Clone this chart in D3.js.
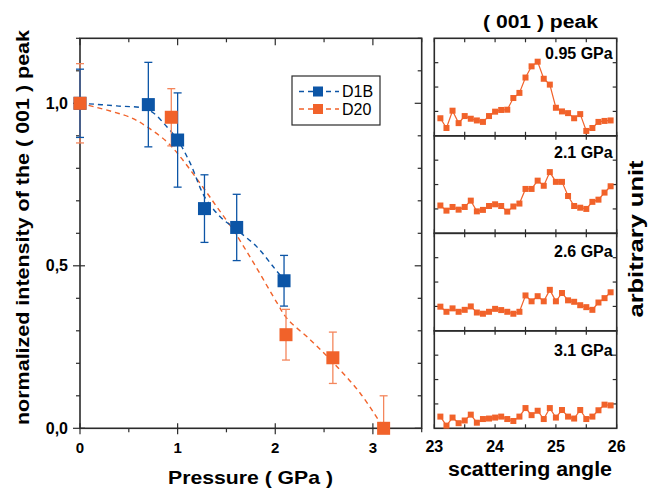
<!DOCTYPE html>
<html>
<head>
<meta charset="utf-8">
<script src="https://cdn.jsdelivr.net/npm/d3@7"></script>
<style>
  body { margin: 0; background: #fff; }
  svg { font-family: "Liberation Sans", Arial, sans-serif; }
</style>
</head>
<body>
<div id="chart"></div>
<script>
// ---- main panel data: (001) intensity vs pressure ----
var d1bPressure  = [0, 0.70, 1.0, 1.275, 1.605, 2.09];
var d1bIntensity = [1.0, 0.996, 0.887, 0.676, 0.618, 0.454];
var d1bError     = [0.105, 0.13, 0.145, 0.104, 0.102, 0.078];

var d20Pressure  = [0, 0.935, 2.11, 2.59, 3.11];
var d20Intensity = [1.0, 0.957, 0.288, 0.217, 0.0];
var d20Error     = [0.122, 0.088, 0.078, 0.079, 0.1];

// dashed guide curves
var d1bFitP = [0, 0.376, 0.70, 0.889, 1.0, 1.13, 1.275, 1.436, 1.607, 1.81, 1.98, 2.09];
var d1bFitI = [1.0, 0.992, 0.98, 0.928, 0.887, 0.815, 0.713, 0.651, 0.61, 0.559, 0.497, 0.456];
var d20FitP = [0, 0.513, 0.684, 0.889, 1.025, 1.23, 1.40, 1.57, 1.78, 2.02, 2.12, 2.36, 2.6, 2.87, 3.11];
var d20FitI = [1.0, 0.957, 0.928, 0.882, 0.836, 0.754, 0.682, 0.61, 0.508, 0.385, 0.338, 0.272, 0.2, 0.108, 0.0];

var seriesNames = ["D1B", "D20"];
var xTickLabels = ["0", "1", "2", "3"];
var yTickLabels = ["0,0", "0,5", "1,0"];

// ---- right panels: (001) peak profiles ----
var angles = [23.1, 23.2, 23.3, 23.4, 23.5, 23.6, 23.7, 23.8, 23.9, 24.0,
              24.1, 24.2, 24.3, 24.4, 24.5, 24.6, 24.7, 24.8, 24.9, 25.0,
              25.1, 25.2, 25.3, 25.4, 25.5, 25.6, 25.7, 25.8, 25.9];
var panelLabels = ["0.95 GPa", "2.1 GPa", "2.6 GPa", "3.1 GPa"];
var profile095 = [0.72, 0.32, 1.03, 0.52, 0.81, 0.70, 0.63, 0.57, 0.81, 0.99,
                  1.06, 1.07, 1.55, 1.76, 2.39, 2.85, 3.04, 2.34, 2.10, 1.15,
                  1.00, 0.93, 0.72, 0.89, 0.20, 0.32, 0.57, 0.61, 0.63];
var profile21  = [1.14, 0.93, 1.08, 0.97, 1.08, 1.34, 0.90, 0.96, 1.12, 1.19,
                  1.12, 0.89, 1.10, 1.22, 1.82, 1.82, 2.16, 1.95, 2.51, 2.11,
                  2.11, 1.53, 1.12, 1.05, 1.00, 1.29, 1.38, 1.67, 1.93];
var profile26  = [0.99, 0.78, 0.92, 0.78, 0.86, 1.00, 0.75, 0.70, 0.78, 0.90,
                  0.85, 0.78, 0.70, 0.78, 1.45, 1.21, 1.42, 1.21, 1.68, 1.21,
                  1.55, 1.25, 1.19, 1.05, 0.97, 0.86, 1.16, 1.34, 1.58];
var profile31  = [0.48, 0.11, 0.44, 0.21, 0.32, 0.56, 0.23, 0.38, 0.40, 0.44,
                  0.48, 0.38, 0.30, 0.48, 0.83, 0.54, 0.72, 0.38, 0.83, 0.44,
                  0.75, 0.48, 0.40, 0.75, 0.38, 0.48, 0.74, 0.97, 0.94];
var profiles = [profile095, profile21, profile26, profile31];
var angleTickLabels = ["23", "24", "25", "26"];

var blue = "#0c55a6";
var orange = "#f1622a";
var orangeLight = "#f4865c";
var axisColor = "#2b2b2b";

function init() {
    var W = 649, H = 489;
    var svg = d3.select("#chart").append("svg")
        .attr("width", W).attr("height", H);

    // ================= main panel =================
    var m = {left: 80, right: 421.7, top: 38.3, bottom: 428.3};
    var x = d3.scaleLinear().domain([0, 3.5]).range([m.left, m.right]);
    var y = d3.scaleLinear().domain([0, 1.2]).range([m.bottom, m.top]);

    var main = svg.append("g");

    // ticks: left/bottom outward, right/top inward
    var xTicks = d3.range(0, 3.51, 0.5);
    var yTicks = d3.range(0, 1.201, 0.1);
    function isMajorX(v) { return Math.abs(v - Math.round(v)) < 1e-6; }
    function isMajorY(v) { return Math.abs(v * 2 - Math.round(v * 2)) < 1e-6; }

    var tickG = main.append("g").attr("stroke", axisColor).attr("stroke-width", 1.2);
    xTicks.forEach(function(v) {
        var maj = isMajorX(v);
        tickG.append("line").attr("x1", x(v)).attr("x2", x(v))
            .attr("y1", m.bottom - (maj ? 5 : 0)).attr("y2", m.bottom + (maj ? 6 : 4));
        tickG.append("line").attr("x1", x(v)).attr("x2", x(v))
            .attr("y1", m.top).attr("y2", m.top + (maj ? 7 : 4));
    });
    yTicks.forEach(function(v) {
        var maj = isMajorY(v);
        tickG.append("line").attr("y1", y(v)).attr("y2", y(v))
            .attr("x1", m.left - (maj ? 7 : 4)).attr("x2", m.left + (maj ? 5 : 0));
        tickG.append("line").attr("y1", y(v)).attr("y2", y(v))
            .attr("x1", m.right).attr("x2", m.right - (maj ? 7 : 4));
    });

    main.append("rect")
        .attr("x", m.left).attr("y", m.top)
        .attr("width", m.right - m.left).attr("height", m.bottom - m.top)
        .attr("fill", "none").attr("stroke", axisColor).attr("stroke-width", 1.6);

    // tick labels
    main.selectAll(".xlab").data(xTickLabels).enter().append("text")
        .attr("x", function(d) { return x(+d); })
        .attr("y", 453)
        .attr("text-anchor", "middle")
        .attr("font-size", 15).attr("font-weight", "bold")
        .text(function(d) { return d; });
    main.selectAll(".ylab").data(yTickLabels).enter().append("text")
        .attr("x", 68)
        .attr("y", function(d) { return y(+d.replace(",", ".")) + 5.5; })
        .attr("text-anchor", "end")
        .attr("font-size", 16).attr("font-weight", "bold")
        .text(function(d) { return d; });

    // axis titles
    main.append("text")
        .attr("x", 250.5).attr("y", 484)
        .attr("text-anchor", "middle")
        .attr("font-size", 19).attr("font-weight", "bold")
        .attr("textLength", 165).attr("lengthAdjust", "spacingAndGlyphs")
        .text("Pressure ( GPa )");
    main.append("text")
        .attr("transform", "translate(29,227.5) rotate(-90)")
        .attr("text-anchor", "middle")
        .attr("font-size", 18.5).attr("font-weight", "bold")
        .attr("textLength", 395).attr("lengthAdjust", "spacingAndGlyphs")
        .text("normalized intensity of the ( 001 ) peak");

    // dashed guide curves
    var line = d3.line()
        .x(function(d) { return x(d[0]); })
        .y(function(d) { return y(d[1]); })
        .curve(d3.curveCatmullRom);
    main.append("path")
        .attr("d", line(d3.zip(d20FitP, d20FitI)))
        .attr("fill", "none").attr("stroke", orange)
        .attr("stroke-width", 1.4).attr("stroke-dasharray", "5,4");
    main.append("path")
        .attr("d", line(d3.zip(d1bFitP, d1bFitI)))
        .attr("fill", "none").attr("stroke", blue)
        .attr("stroke-width", 1.4).attr("stroke-dasharray", "5,4");

    // error bars
    function errorBars(px, py, pe, color) {
        var g = main.append("g").attr("stroke", color).attr("stroke-width", 1.3);
        px.forEach(function(p, i) {
            var top = y(py[i] + pe[i]);
            var bot = y(Math.max(0, py[i] - pe[i]));
            g.append("line").attr("x1", x(p)).attr("x2", x(p)).attr("y1", top).attr("y2", bot);
            g.append("line").attr("x1", x(p) - 4).attr("x2", x(p) + 4).attr("y1", top).attr("y2", top);
            if (py[i] - pe[i] > 0) {
                g.append("line").attr("x1", x(p) - 4).attr("x2", x(p) + 4).attr("y1", bot).attr("y2", bot);
            }
        });
    }
    errorBars(d20Pressure, d20Intensity, d20Error, orangeLight);
    errorBars(d1bPressure, d1bIntensity, d1bError, blue);

    // squares
    var s = 13;
    main.selectAll(".sq1").data(d3.zip(d1bPressure, d1bIntensity)).enter().append("rect")
        .attr("x", function(d) { return x(d[0]) - s / 2; })
        .attr("y", function(d) { return y(d[1]) - s / 2; })
        .attr("width", s).attr("height", s)
        .attr("fill", blue);
    main.selectAll(".sq2").data(d3.zip(d20Pressure, d20Intensity)).enter().append("rect")
        .attr("x", function(d) { return x(d[0]) - s / 2; })
        .attr("y", function(d) { return y(d[1]) - s / 2; })
        .attr("width", s).attr("height", s)
        .attr("fill", orange);

    // legend
    var leg = main.append("g");
    leg.append("rect")
        .attr("x", 292).attr("y", 76).attr("width", 88).attr("height", 49)
        .attr("fill", "#fff").attr("stroke", axisColor).attr("stroke-width", 1.2);
    var legColors = [blue, orange];
    seriesNames.forEach(function(name, i) {
        var ly = 91.5 + i * 17.5;
        leg.append("line")
            .attr("x1", 299).attr("x2", 339).attr("y1", ly).attr("y2", ly)
            .attr("stroke", legColors[i]).attr("stroke-width", 1.3)
            .attr("stroke-dasharray", "5,4");
        leg.append("rect")
            .attr("x", 318 - 5).attr("y", ly - 5).attr("width", 10).attr("height", 10)
            .attr("fill", legColors[i]);
        leg.append("text")
            .attr("x", 342).attr("y", ly + 5.5)
            .attr("font-size", 16)
            .text(name);
    });

    // ================= right panels =================
    var r = {left: 434.3, right: 616.7, top: 38.3, bottom: 428.3};
    var ph = (r.bottom - r.top) / profiles.length;
    var xa = d3.scaleLinear().domain([23, 26]).range([r.left, r.right]);
    var angleTicks = d3.range(23, 26.01, 0.5);

    profiles.forEach(function(vals, k) {
        var top = r.top + k * ph;
        var ya = d3.scaleLinear().domain([0, 4]).range([top + ph, top]);
        var g = svg.append("g");

        var tg = g.append("g").attr("stroke", axisColor).attr("stroke-width", 1.2);
        angleTicks.forEach(function(v) {
            tg.append("line").attr("x1", xa(v)).attr("x2", xa(v))
                .attr("y1", top + ph).attr("y2", top + ph - 4);
            tg.append("line").attr("x1", xa(v)).attr("x2", xa(v))
                .attr("y1", top).attr("y2", top + 4);
        });
        [1, 2, 3].forEach(function(v) {
            tg.append("line").attr("y1", ya(v)).attr("y2", ya(v))
                .attr("x1", r.left).attr("x2", r.left + 4);
            tg.append("line").attr("y1", ya(v)).attr("y2", ya(v))
                .attr("x1", r.right).attr("x2", r.right - 4);
        });

        g.append("rect")
            .attr("x", r.left).attr("y", top)
            .attr("width", r.right - r.left).attr("height", ph)
            .attr("fill", "none").attr("stroke", axisColor).attr("stroke-width", 1.6);

        var pts = d3.zip(angles, vals);
        var pl = d3.line()
            .x(function(d) { return xa(d[0]); })
            .y(function(d) { return ya(d[1]); });
        g.append("path").attr("d", pl(pts))
            .attr("fill", "none").attr("stroke", orange).attr("stroke-width", 1.2);
        g.selectAll(".pt").data(pts).enter().append("rect")
            .attr("x", function(d) { return xa(d[0]) - 3; })
            .attr("y", function(d) { return ya(d[1]) - 3; })
            .attr("width", 6).attr("height", 6)
            .attr("fill", orange);

        g.append("text")
            .attr("x", r.right - 4).attr("y", top + 20.5 + k * 1.5)
            .attr("text-anchor", "end")
            .attr("font-size", 16).attr("font-weight", "bold")
            .text(panelLabels[k]);
    });

    svg.selectAll(".alab").data(angleTickLabels).enter().append("text")
        .attr("x", function(d) { return xa(+d); })
        .attr("y", 452)
        .attr("text-anchor", "middle")
        .attr("font-size", 16).attr("font-weight", "bold")
        .text(function(d) { return d; });

    svg.append("text")
        .attr("x", 530).attr("y", 476)
        .attr("text-anchor", "middle")
        .attr("font-size", 20).attr("font-weight", "bold")
        .attr("textLength", 164).attr("lengthAdjust", "spacingAndGlyphs")
        .text("scattering angle");
    svg.append("text")
        .attr("x", 540.5).attr("y", 28)
        .attr("text-anchor", "middle")
        .attr("font-size", 18).attr("font-weight", "bold")
        .attr("textLength", 115).attr("lengthAdjust", "spacingAndGlyphs")
        .text("( 001 ) peak");
    svg.append("text")
        .attr("transform", "translate(643,239) rotate(-90)")
        .attr("text-anchor", "middle")
        .attr("font-size", 20).attr("font-weight", "bold")
        .attr("textLength", 157).attr("lengthAdjust", "spacingAndGlyphs")
        .text("arbitrary unit");
}

window.onload = init;
</script>
</body>
</html>
